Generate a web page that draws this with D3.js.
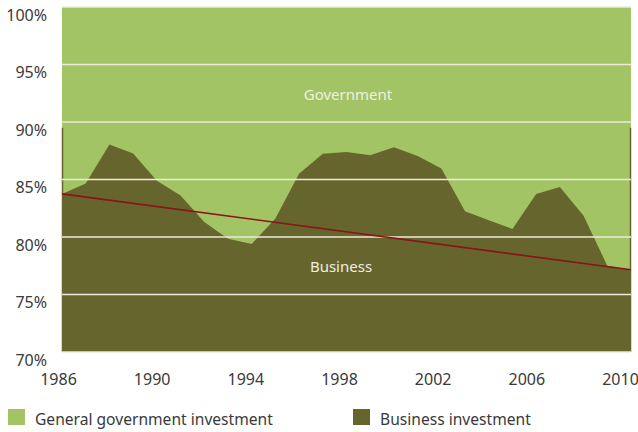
<!DOCTYPE html>
<html>
<head>
<meta charset="utf-8">
<script src="https://cdn.jsdelivr.net/npm/d3@7"></script>
<style>
  body { margin: 0; background: white; }
  text { font-family: "Noto Sans", sans-serif; }
</style>
</head>
<body>
<div class="chart"></div>
<script>
// years and business share of total investment (%)
let years = d3.range(1986, 2011);
let business = [83.75, 84.65, 88.05, 87.27, 84.9, 83.6, 81.3, 79.85, 79.4, 81.6,
    85.5, 87.25, 87.4, 87.1, 87.8, 87.05, 85.95, 82.25, 81.45, 80.7,
    83.75, 84.35, 81.85, 77.5, 77.15];
let trend = [83.75, 77.15]; // start / end of the trend line
let yTicks = [70, 75, 80, 85, 90, 95, 100];
let xTicks = [1986, 1990, 1994, 1998, 2002, 2006, 2010];
let legendLabels = ["General government investment", "Business investment"];

let lightGreen = "#a2c464";
let olive = "#67652e";

let data = years.map(function (d, i) {
    return { year: d, value: business[i] };
});

let svg = d3
    .select(".chart")
    .append("svg")
    .attr("width", 638)
    .attr("height", 432);

let x = d3.scaleLinear().domain([1986, 2010]).range([62, 631]);
// tick labels sit slightly left of the data positions in the original
let xLab = d3.scaleLinear().domain([1986, 2010]).range([58, 620]);
let y = d3.scaleLinear().domain([70, 100]).range([352, 7]);

// government (full background)
svg.append("rect")
    .attr("x", x(1986))
    .attr("y", y(100))
    .attr("width", x(2010) - x(1986))
    .attr("height", y(70) - y(100))
    .attr("fill", lightGreen);

// business area
let area = d3.area()
    .x(function (d) { return x(d.year); })
    .y0(y(70))
    .y1(function (d) { return y(d.value); });

svg.append("path")
    .datum(data)
    .attr("fill", olive)
    .attr("d", area);

// dark edges on both sides
svg.selectAll(".edge")
    .data([1986, 2010])
    .enter()
    .append("line")
    .attr("x1", function (d) { return x(d) + (d == 1986 ? 0.5 : -0.5); })
    .attr("x2", function (d) { return x(d) + (d == 1986 ? 0.5 : -0.5); })
    .attr("y1", y(89.5))
    .attr("y2", y(70))
    .attr("stroke", olive)
    .attr("stroke-width", 1.5);

// gridlines
svg.append("g")
    .selectAll("line")
    .data(yTicks)
    .enter()
    .append("line")
    .attr("x1", x(1986))
    .attr("x2", x(2010))
    .attr("y1", function (d) { return y(d); })
    .attr("y2", function (d) { return y(d); })
    .attr("stroke", "#ebeadb")
    .attr("stroke-width", 1.5);

// trend line
svg.append("line")
    .attr("x1", x(1986))
    .attr("y1", y(trend[0]))
    .attr("x2", x(2010))
    .attr("y2", y(trend[1]))
    .attr("stroke", "#8b1418")
    .attr("stroke-width", 1.6);

// y axis
let yAxis = svg.append("g")
    .attr("transform", "translate(47,8)")
    .call(d3.axisLeft(y).tickValues(yTicks).tickSize(0).tickPadding(0)
        .tickFormat(function (d) { return d + "%"; }));
yAxis.select(".domain").remove();
yAxis.selectAll("text")
    .style("font-family", "Noto Sans")
    .style("font-size", "16px")
    .attr("fill", "#3a3a3a");

// x axis
let xAxis = svg.append("g")
    .attr("transform", "translate(0,374)")
    .call(d3.axisBottom(xLab).tickValues(xTicks).tickSize(0).tickPadding(0)
        .tickFormat(d3.format("d")));
xAxis.select(".domain").remove();
xAxis.selectAll("text")
    .style("font-family", "Noto Sans")
    .style("font-size", "16px")
    .attr("fill", "#3a3a3a");

// area labels
svg.append("text")
    .attr("x", 348)
    .attr("y", 100)
    .attr("text-anchor", "middle")
    .style("font-size", "15px")
    .attr("fill", "#eef0e0")
    .text("Government");

svg.append("text")
    .attr("x", 341)
    .attr("y", 272)
    .attr("text-anchor", "middle")
    .style("font-size", "15px")
    .attr("fill", "#eeeee0")
    .text("Business");

// legend
let legend = svg.append("g")
    .selectAll("g")
    .data(legendLabels)
    .enter()
    .append("g")
    .attr("transform", function (d, i) {
        return "translate(" + (8 + i * 345) + ",409)";
    });

legend.append("rect")
    .attr("width", 17)
    .attr("height", 16)
    .attr("fill", function (d, i) { return i == 0 ? lightGreen : olive; });

legend.append("text")
    .attr("x", 27)
    .attr("y", 16)
    .style("font-size", "15.6px")
    .attr("fill", "#3a3a3a")
    .text(function (d) { return d; });
</script>
</body>
</html>
